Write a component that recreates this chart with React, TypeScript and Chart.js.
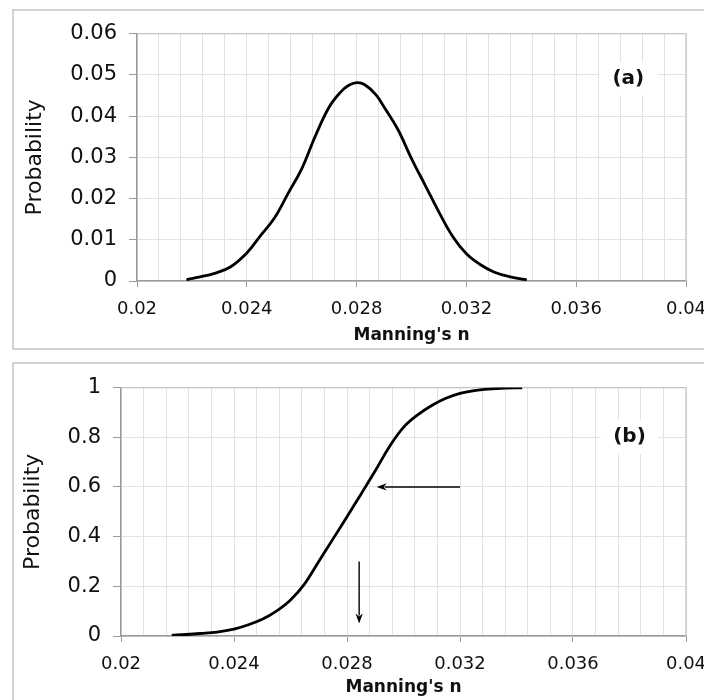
import React, { useEffect, useRef } from "react";
import { Chart, registerables } from "chart.js";

Chart.register(...registerables);

// ---------- data ----------
const nPdf = [0.0218, 0.0223, 0.0228, 0.0234, 0.024, 0.0245, 0.025, 0.0255, 0.026, 0.0265, 0.027, 0.0274, 0.0277, 0.028, 0.0283, 0.0287, 0.029, 0.0295, 0.03, 0.0305, 0.031, 0.0315, 0.032, 0.0325, 0.033, 0.0336, 0.0342];
const pdfValues = [0.0003, 0.001, 0.0018, 0.0034, 0.0068, 0.011, 0.0152, 0.0212, 0.0272, 0.0352, 0.0422, 0.0457, 0.0474, 0.0481, 0.0476, 0.0452, 0.0422, 0.0368, 0.0297, 0.0232, 0.0167, 0.0108, 0.0066, 0.004, 0.0022, 0.001, 0.0003];

const nCdf = [0.0218, 0.0223, 0.0228, 0.0234, 0.024, 0.0245, 0.025, 0.0255, 0.026, 0.0265, 0.027, 0.0275, 0.028, 0.0285, 0.029, 0.0295, 0.03, 0.0305, 0.031, 0.0315, 0.032, 0.0325, 0.033, 0.0336, 0.0342];
const cdfValues = [0.003, 0.006, 0.01, 0.016, 0.028, 0.045, 0.067, 0.1, 0.145, 0.21, 0.3, 0.39, 0.48, 0.572, 0.665, 0.762, 0.84, 0.89, 0.928, 0.957, 0.977, 0.988, 0.994, 0.998, 0.999];

const xMajorTicks = [0.02, 0.024, 0.028, 0.032, 0.036, 0.04];
const xTickLabels = ["0.02", "0.024", "0.028", "0.032", "0.036", "0.04"];
const pdfYTickLabels = ["0", "0.01", "0.02", "0.03", "0.04", "0.05", "0.06"];
const cdfYTickLabels = ["0", "0.2", "0.4", "0.6", "0.8", "1"];

const xTitle = "Manning's n";
const yTitle = "Probability";
const panelALabel = { text: "(a)", x: 0.0379, y: 0.049 };
const panelBLabel = { text: "(b)", x: 0.038, y: 0.8 };
const arrowHorizontal = { x1: 0.032, y1: 0.6, x2: 0.02905, y2: 0.6 };
const arrowVertical = { x1: 0.02843, y1: 0.3, x2: 0.02843, y2: 0.05 };

// ---------- styling ----------
const FONT = "'DejaVu Sans', 'Liberation Sans', Arial, sans-serif";
const GRID = "#e2e2e2";
const AXIS = "#9a9a9a";

function majorIndex(v: number): number {
  for (let i = 0; i < xMajorTicks.length; i++) {
    if (Math.abs(v - xMajorTicks[i]) < 1e-7) return i;
  }
  return -1;
}

function makeX(height: number, titlePad: number) {
  return {
    type: "linear",
    min: 0.02,
    max: 0.04,
    ticks: {
      stepSize: 0.0008,
      autoSkip: false,
      maxRotation: 0,
      minRotation: 0,
      padding: 12,
      color: "#111",
      font: { family: FONT, size: 18 },
      callback: (v: number) => {
        const i = majorIndex(v);
        return i >= 0 ? xTickLabels[i] : "";
      },
    },
    grid: {
      color: GRID,
      lineWidth: 1,
      drawTicks: true,
      tickLength: 6,
      tickColor: (c: any) => (c.tick && majorIndex(c.tick.value) >= 0 ? AXIS : "rgba(0,0,0,0)"),
    },
    border: { display: true, color: AXIS, width: 1.5 },
    title: {
      display: true,
      text: xTitle,
      color: "#111",
      font: { family: FONT, size: 17, weight: "bold" },
      padding: { top: 0, bottom: titlePad },
    },
    afterFit: (s: any) => {
      s.height = height;
    },
  };
}

function makeY(max: number, step: number, labels: string[], width: number, titlePad: number) {
  return {
    type: "linear",
    min: 0,
    max,
    ticks: {
      stepSize: step,
      padding: 12,
      color: "#111",
      font: { family: FONT, size: 21 },
      callback: (_v: number, i: number) => labels[i],
    },
    grid: { color: GRID, lineWidth: 1, tickLength: 8, tickColor: AXIS },
    border: { display: true, color: AXIS, width: 1.5 },
    title: {
      display: true,
      text: yTitle,
      color: "#111",
      font: { family: FONT, size: 22 },
      padding: { top: titlePad, bottom: 0 },
    },
    afterFit: (s: any) => {
      s.width = width;
    },
  };
}

function drawArrow(ctx: CanvasRenderingContext2D, x1: number, y1: number, x2: number, y2: number) {
  const ang = Math.atan2(y2 - y1, x2 - x1);
  const len = 10;
  const hw = 3.6;
  ctx.save();
  ctx.strokeStyle = "#000";
  ctx.fillStyle = "#000";
  ctx.lineWidth = 1.4;
  ctx.beginPath();
  ctx.moveTo(x1, y1);
  ctx.lineTo(x2 - Math.cos(ang) * (len - 2), y2 - Math.sin(ang) * (len - 2));
  ctx.stroke();
  ctx.beginPath();
  ctx.moveTo(x2, y2);
  ctx.lineTo(x2 - Math.cos(ang) * len - Math.sin(ang) * hw, y2 - Math.sin(ang) * len + Math.cos(ang) * hw);
  ctx.lineTo(x2 - Math.cos(ang) * (len - 3), y2 - Math.sin(ang) * (len - 3));
  ctx.lineTo(x2 - Math.cos(ang) * len + Math.sin(ang) * hw, y2 - Math.sin(ang) * len - Math.cos(ang) * hw);
  ctx.closePath();
  ctx.fill();
  ctx.restore();
}

function decorPlugin(label: { text: string; x: number; y: number }, arrows: any[]) {
  return {
    id: "decor",
    beforeDatasetsDraw(chart: any) {
      const { ctx, chartArea: a } = chart;
      ctx.save();
      ctx.strokeStyle = "#c4c4c4";
      ctx.lineWidth = 1.2;
      ctx.beginPath();
      ctx.moveTo(a.left, a.top);
      ctx.lineTo(a.right, a.top);
      ctx.lineTo(a.right, a.bottom);
      ctx.stroke();
      const xs = chart.scales.x;
      const ys = chart.scales.y;
      const px = xs.getPixelForValue(label.x);
      const py = ys.getPixelForValue(label.y);
      ctx.fillStyle = "#fff";
      ctx.fillRect(px - 29, py - 17, 58, 34);
      ctx.fillStyle = "#111";
      ctx.font = `bold 20px ${FONT}`;
      ctx.textAlign = "center";
      ctx.textBaseline = "middle";
      ctx.fillText(label.text, px, py);
      ctx.restore();
    },
    afterDatasetsDraw(chart: any) {
      const { ctx } = chart;
      const xs = chart.scales.x;
      const ys = chart.scales.y;
      arrows.forEach((ar) => {
        drawArrow(
          ctx,
          xs.getPixelForValue(ar.x1),
          ys.getPixelForValue(ar.y1),
          xs.getPixelForValue(ar.x2),
          ys.getPixelForValue(ar.y2)
        );
      });
    },
  };
}

function makeChart(
  canvas: HTMLCanvasElement,
  xs: number[],
  ys: number[],
  yScale: any,
  xScale: any,
  padding: any,
  plugin: any
) {
  return new Chart(canvas, {
    type: "line",
    data: {
      datasets: [
        {
          data: xs.map((x, i) => ({ x, y: ys[i] })),
          borderColor: "#000",
          borderWidth: 2.8,
          pointRadius: 0,
          fill: false,
          tension: 0.4,
          borderJoinStyle: "round",
        },
      ],
    },
    options: {
      animation: false,
      responsive: false,
      devicePixelRatio: 1,
      layout: { padding },
      plugins: { legend: { display: false }, tooltip: { enabled: false }, title: { display: false } },
      scales: { x: xScale, y: yScale },
    },
    plugins: [plugin],
  } as any);
}

export default function App() {
  const refA = useRef<HTMLCanvasElement>(null);
  const refB = useRef<HTMLCanvasElement>(null);

  useEffect(() => {
    const a = makeChart(
      refA.current!,
      nPdf,
      pdfValues,
      makeY(0.06, 0.01, pdfYTickLabels, 125, 10),
      makeX(68, 3),
      { left: 0, top: 21, right: 46, bottom: 0 },
      decorPlugin(panelALabel, [])
    );
    const b = makeChart(
      refB.current!,
      nCdf,
      cdfValues,
      makeY(1, 0.2, cdfYTickLabels, 109, 8),
      makeX(72, 10),
      { left: 0, top: 20, right: 46, bottom: 0 },
      decorPlugin(panelBLabel, [arrowHorizontal, arrowVertical])
    );
    return () => {
      a.destroy();
      b.destroy();
    };
  }, []);

  const border: React.CSSProperties = {
    position: "absolute",
    boxSizing: "border-box",
    border: "2px solid #d2d2d2",
    left: 12,
    width: 760,
  };

  return (
    <div
      style={{
        position: "fixed",
        left: 0,
        top: 0,
        width: 704,
        height: 700,
        overflow: "hidden",
        background: "#fff",
      }}
    >
      <div style={{ ...border, top: 9, height: 341 }} />
      <div style={{ ...border, top: 362, height: 360 }} />
      <canvas
        ref={refA}
        width={720}
        height={340}
        style={{ position: "absolute", left: 12, top: 9, width: 720, height: 340 }}
      />
      <canvas
        ref={refB}
        width={720}
        height={345}
        style={{ position: "absolute", left: 12, top: 363, width: 720, height: 345 }}
      />
    </div>
  );
}
